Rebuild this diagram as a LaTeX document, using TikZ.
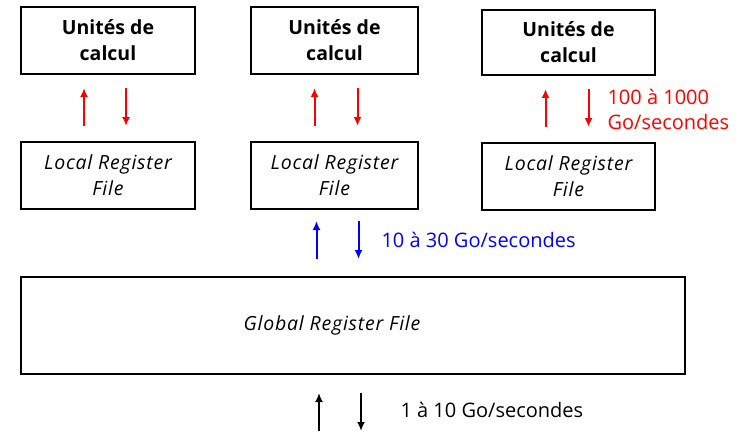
\documentclass[tikz,border=0pt]{standalone}
\usepackage{fontspec}
\setmainfont{Open Sans}
\usetikzlibrary{positioning,arrows.meta}
\begin{document}
\begin{tikzpicture}[x=1pt,y=-1pt]
    \tikzset{unit/.style={draw,line width=2.5pt,outer sep=0pt,minimum width=174pt,minimum
        height=67pt,align=center,font=\fontsize{19.5}{26}\selectfont\bfseries},lrf/.style={unit,font=\fontsize{19.5}{26}\selectfont\itshape\addfontfeature{LetterSpace=4}},grf/.style={lrf,
        minimum width=664pt,minimum height=97pt},fl/.style={line width=2pt,>={Latex[length=9pt,width=8pt]}},lbl/.style={anchor=west,font=\fontsize{20}{25}\selectfont}}
    \useasboundingbox (0,0) rectangle (742,444);
    \node[unit] (u1) at (108,40.5) {Unités de\\calcul};
    \node[unit,minimum width=167pt] (u2) [right=56pt of u1] {Unités de\\calcul};
    \node[unit,minimum width=173pt,minimum height=65pt] (u3) [right=64pt of u2,yshift=-2pt] {Unités de\\calcul};
    \node[lrf] (l1) [below=68pt of u1] {Local Register\\File};
    \node[lrf,minimum width=167pt] (l2) [below=68pt of u2] {Local Register\\File};
    \node[lrf,minimum width=173pt] (l3) [below=68pt of u3] {Local Register\\File};
    \node[grf,anchor=north west] (g) at ([yshift=-68pt]l1.south west) {Global Register File\hspace*{42pt}};
    \coordinate (ext) at ([yshift=-57pt]g.south);

    \foreach \n/\a/\b in {1/-24/18,2/-20/23,3/-23/20}{
      \draw[fl,red,->,shorten <=16pt,shorten >=14pt] ([xshift=\a pt]l\n.north) -- ([xshift=\a pt]l\n.north |- u\n.south);
      \draw[fl,red,->,shorten <=14pt,shorten >=16pt] ([xshift=\b pt]u\n.south) -- ([xshift=\b pt]u\n.south |- l\n.north);
    }
    \draw[fl,blue,->,shorten <=18pt,shorten >=12pt] ([xshift=-18pt]l2.south |- g.north) -- ([xshift=-18pt]l2.south);
    \draw[fl,blue,->,shorten <=12pt,shorten >=18pt] ([xshift=24pt]l2.south) -- ([xshift=24pt]l2.south |- g.north);
    \draw[fl,->,shorten >=19pt] ([xshift=-34pt]ext) -- ([xshift=-34pt]ext |- g.south);
    \draw[fl,->,shorten <=19pt] ([xshift=8pt]ext |- g.south) -- ([xshift=8pt]ext);

    \node[lbl,red,align=left] (rl) at (604,109) {100 à 1000\\Go/secondes};
    \node[lbl,blue] (bl) at (378,240) {10 à 30 Go/secondes};
    \node[lbl] (kl) at (397,410) {1 à 10 Go/secondes};
  \end{tikzpicture}
\end{document}
